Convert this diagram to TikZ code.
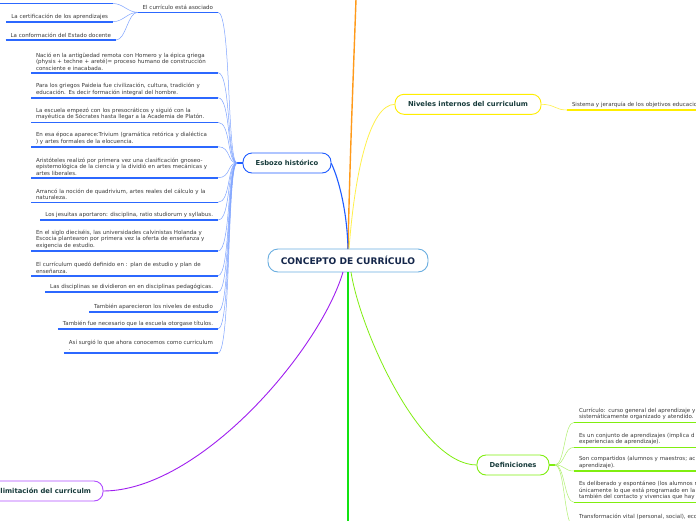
\documentclass[tikz,border=0pt]{standalone}
\usepackage{fontspec}
\setmainfont{DejaVu Sans}
\definecolor{ink}{HTML}{3A3A3A}
\definecolor{topicink}{HTML}{173B3B}
\definecolor{rootink}{HTML}{14264A}
\definecolor{rootb}{HTML}{6AAEE0}
\definecolor{bluel}{HTML}{2C68FF}
\definecolor{bluec}{HTML}{7FA4FF}
\definecolor{blueb}{HTML}{1F5CFF}
\definecolor{orng}{HTML}{FF9A1A}
\definecolor{yel}{HTML}{FFEE00}
\definecolor{yelc}{HTML}{FFF04A}
\definecolor{grn}{HTML}{11E311}
\definecolor{lgrn}{HTML}{80EE10}
\definecolor{lgrnc}{HTML}{B0F070}
\definecolor{purp}{HTML}{A01FF0}
\definecolor{purpb}{HTML}{B04DFF}
\tikzset{
  every node/.style={outer sep=0pt},
  itm/.style={font=\fontsize{5.5}{6.5}\selectfont, text=ink, inner xsep=5pt, inner ysep=2.4pt},
  itmL/.style={itm, anchor=south east},
  itmM/.style={itmL, text width=177pt, align=left},
  itmR/.style={itm, anchor=south west, text width=220pt, align=left},
  topic/.style={draw, fill=white, rounded corners=9pt, line width=0.9pt,
     font=\bfseries\fontsize{6.8}{8}\selectfont, text=topicink, minimum height=20pt, inner xsep=12pt},
  bline/.style={line width=1.6pt, draw=bluel},
  bconn/.style={line width=0.5pt, draw=bluec},
  yline/.style={line width=1.6pt, draw=yel},
  gline/.style={line width=1.6pt, draw=lgrn},
  gconn/.style={line width=0.5pt, draw=lgrnc},
}
\begin{document}
\begin{tikzpicture}[x=1pt,y=-1pt]
\useasboundingbox (0,0) rectangle (696,520);
\fill[white] (0,0) rectangle (696,520);

% ---------- main topics
\node[topic, draw=rootb, rounded corners=10pt, minimum width=160pt, minimum height=23pt,
      font=\bfseries\fontsize{9.1}{10}\selectfont, text=rootink] (con) at (348,260.5) {CONCEPTO DE CURRÍCULO};
\node[topic, draw=blueb, minimum width=88pt] (esb) at (287,163) {Esbozo histórico};
\node[topic, draw=yel, minimum width=146pt] (niv) at (468,104.3) {Niveles internos del curriculum};
\node[topic, draw=lgrn, minimum width=72pt] (def) at (513,465) {Definiciones};
\node[topic, draw=purpb, anchor=east] (del) at (103,491) {Delimitación del curriculm};

\coordinate (orngEnd) at (357,-30);
\coordinate (grnEnd) at (348,540);

% ---------- main connectors
\draw[orng, line width=1.4pt] (con.north) .. controls (350,150) and (354,60) .. (orngEnd);
\draw[blueb, line width=1.1pt] (con.north) .. controls (347,205) and (336,172) .. (esb.east);
\draw[yelc, line width=0.8pt] ([xshift=1pt]con.north) .. controls (355,170) and (370,104.3) .. (niv.west);
\draw[grn, line width=1.5pt] (con.south) -- (grnEnd);
\draw[lgrn, line width=0.8pt] ([xshift=3pt]con.south) .. controls (360,330) and (420,465) .. (def.west);
\draw[purp, line width=0.9pt] ([xshift=-5pt]con.south) .. controls (320,350) and (200,491) .. (del.east);

% ---------- Esbozo histórico children
\coordinate (hubE) at (237,163);
\draw[blueb, line width=1.2pt] (hubE) -- (esb.west);

\node[itmL] (ea) at (218,12.3) {El currículo está asociado};
\node[itmL, minimum width=120pt, minimum height=2pt, inner ysep=0pt] (t0) at (113,3.5) {};
\node[itmL] (t1) at (113,21.7) {La certificación de los aprendizajes};
\node[itmL] (t2) at (116,40) {La conformación del Estado docente};

\node[itmM] (i1) at (218,72.7) {Nació en la antigüedad remota con Homero y la épica griega\\(physis + techne + areté)= proceso humano de construcción\\consciente e inacabada.};
\node[itmM] (i2) at (218,97.7) {Para los griegos Paideia fue civilización, cultura, tradición y\\educación. Es decir formación integral del hombre.};
\node[itmM] (i3) at (218,122.3) {La escuela empezó con los presocráticos y siguió con la\\mayéutica de Sócrates hasta llegar a la Academia de Platón.};
\node[itmM] (i4) at (218,146.7) {En esa época aparece:Trivium (gramática retórica y dialéctica\\) y artes formales de la elocuencia.};
\node[itmM] (i5) at (218,177.7) {Aristóteles realizó por primera vez una clasificación gnoseo-\\epistemológica de la ciencia y la dividió en artes mecánicas y\\artes liberales.};
\node[itmM] (i6) at (218,202.3) {Arrancó la noción de quadrivium, artes reales del cálculo y la\\naturaleza.};
\node[itmL] (i7) at (218,220) {Los jesuitas aportaron: disciplina, ratio studiorum y syllabus.};
\node[itmM] (i8) at (218,251) {En el siglo dieciséis, las universidades calvinistas Holanda y\\Escocia plantearon por primera vez la oferta de enseñanza y\\exigencia de estudio.};
\node[itmM] (i9) at (218,275.7) {El currículum quedó definido en : plan de estudio y plan de\\enseñanza.};
\node[itmL] (i10) at (218,292) {Las disciplinas se dividieron en en disciplinas pedagógicas.};
\node[itmL] (i11) at (218,311.7) {También aparecieron los niveles de estudio};
\node[itmL] (i12) at (218,329) {También fue necesario que la escuela otorgase títulos.};
\node[itmL, align=left] (i13) at (218,353) {Así surgió lo que ahora conocemos como curriculum\\.};

\foreach \n in {ea,i1,i2,i3,i4,i5,i6,i7,i8,i9,i10,i11,i12,i13}{
  \draw[bconn] (\n.south east) .. controls +(13,0) and +(-10,0) .. (hubE);
}
\foreach \n in {t0,t1,t2}{
  \draw[bconn] (ea.south west) .. controls +(-10,0) and +(10,0) .. (\n.south east);
}
\foreach \n in {ea,t0,t1,t2,i1,i2,i3,i4,i5,i6,i7,i8,i9,i10,i11,i12,i13}{
  \draw[bline] (\n.south west) -- (\n.south east);
}

% ---------- Niveles internos
\node[itmR] (n1) at (567,110) {Sistema y jerarquía de los objetivos educacio};
\draw[yelc, line width=0.6pt] (niv.east) .. controls +(14,0) and +(-12,0) .. (n1.south west);
\draw[yline] (n1.south west) -- (n1.south east);

% ---------- Definiciones
\coordinate (hubD) at (555,465);
\draw[lgrn, line width=1.1pt] (def.east) -- (hubD);
\node[itmR] (d1) at (574,422.3) {Currículo: curso general del aprendizaje y\\sistemáticamente organizado y atendido.};
\node[itmR] (d2) at (574,447.3) {Es un conjunto de aprendizajes (implica d\\experiencias de aprendizaje).};
\node[itmR] (d3) at (574,471) {Son compartidos (alumnos y maestros; ac\\aprendizaje).};
\node[itmR] (d4) at (574,502.3) {Es deliberado y espontáneo (los alumnos n\\únicamente lo que está programado en la\\también del contacto y vivencias que hay};
\node[itmR] (d5) at (574,527) {Transformación vital (personal, social), eco\\\mbox{}};
\foreach \n in {d1,d2,d3,d4,d5}{
  \draw[gconn] (hubD) .. controls +(10,0) and +(-10,0) .. (\n.south west);
  \draw[gline] (\n.south west) -- (\n.south east);
}
\end{tikzpicture}
\end{document}
